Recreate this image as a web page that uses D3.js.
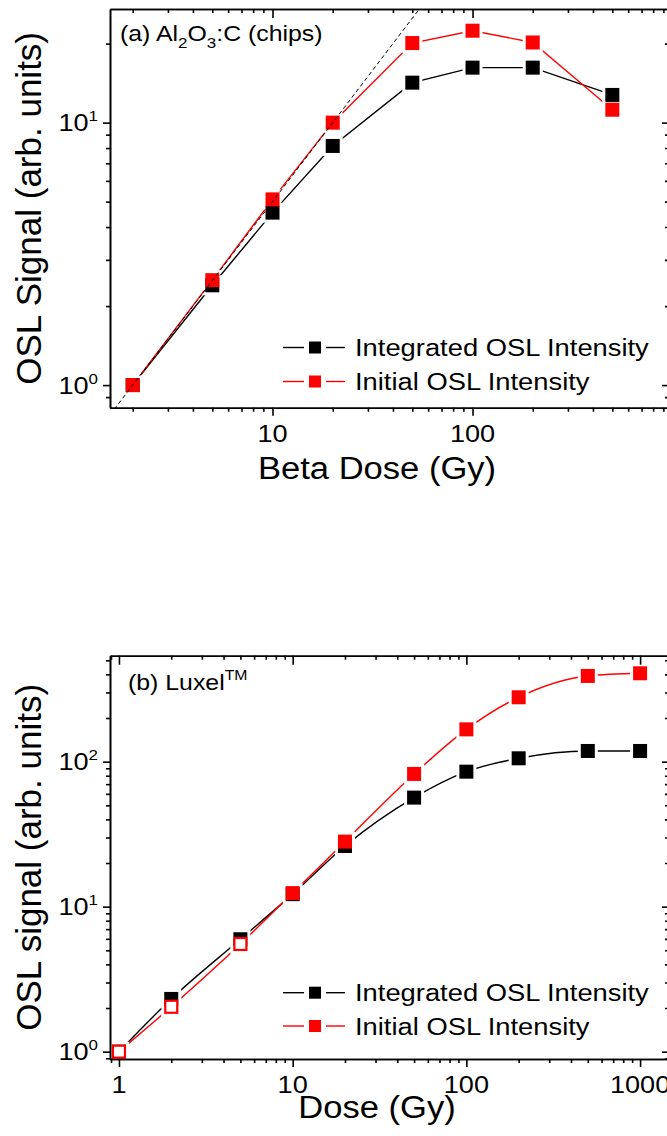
<!DOCTYPE html>
<html lang="en">
<head>
<meta charset="utf-8">
<title>OSL dose response</title>
<style>
  body { margin: 0; background: #fff; }
  svg { display: block; font-family: "Liberation Sans", Arial, sans-serif; }
  .axis path, .axis line { stroke: #000; stroke-width: 1.6; }
  .axis text { display: none; }
</style>
</head>
<body>
<svg id="chart" width="667" height="1136"></svg>
<script src="https://d3js.org/d3.v7.min.js"></script>
<script>

// (a) Al2O3:C chips, beta dose in Gy
const doseA = [2, 5, 10, 20, 50, 100, 200, 500];
const integratedA = [1.0, 2.40, 4.54, 8.15, 14.2, 16.2, 16.2, 12.75];
const initialA = [1.0, 2.51, 5.1, 10.0, 20.1, 22.4, 20.2, 11.2];
const linearSlopeA = 0.5; // signal = 0.5 * dose, linear response guide

// (b) Luxel, dose in Gy
const doseB = [1, 2, 5, 10, 20, 50, 100, 200, 500, 1000];
const integratedB = [1.0, 2.31, 5.96, 12.2, 26.2, 56.5, 85.3, 105.5, 118.5, 118.5];
const initialB = [1.0, 2.04, 5.53, 12.4, 28.1, 82.3, 167, 278, 390, 407];
const hollowDosesB = [1, 2, 5];

const seriesNames = ["Integrated OSL Intensity", "Initial OSL Intensity"];
const seriesColors = ["#000", "#ff0000"];

const xMajorA = [10, 100];
const xMajorLabelsA = ["10", "100"];
const yMajorA = [1, 10];
const yMajorExpA = ["0", "1"];
const xMajorB = [1, 10, 100, 1000];
const xMajorLabelsB = ["1", "10", "100", "1000"];
const yMajorB = [1, 10, 100];
const yMajorExpB = ["0", "1", "2"];

const W = 667, H = 1136;
const SX = 1.13; // horizontal text is set a little wide
const svg = d3.select("#chart");
const defs = svg.append("defs");

// place a horizontal label, widened around its anchor point
function wide(sel, x, y) {
  return sel.attr("transform", `translate(${x},${y}) scale(${SX},1)`);
}

function minorTicks(domain) {
  const out = [];
  for (let e = -1; e <= 3; e++) {
    for (let m = 2; m <= 9; m++) {
      const v = m * Math.pow(10, e);
      if (v >= domain[0] && v <= domain[1]) out.push(v);
    }
  }
  return out;
}

function panel(p) {
  const x = d3.scaleLog().domain(p.xDomain).range([110, 669]);
  const y = d3.scaleLog().domain(p.yDomain).range([p.bottom, p.top]);
  const g = svg.append("g");

  defs.append("clipPath").attr("id", p.id + "-clip")
    .append("rect")
    .attr("x", 110).attr("y", p.top)
    .attr("width", 559).attr("height", p.bottom - p.top);

  // frame with ticks: bottom/left outward, top/right inward
  const xMinor = minorTicks(p.xDomain);
  const yMinor = minorTicks(p.yDomain);
  const axes = [
    [d3.axisBottom(x), `translate(0,${p.bottom})`, xMinor, p.xMajor, 4, 8],
    [d3.axisTop(x), `translate(0,${p.top})`, xMinor, p.xMajor, -4, -9],
    [d3.axisLeft(y), "translate(110,0)", yMinor, p.yMajor, 4, 7],
    [d3.axisRight(y), "translate(669,0)", yMinor, p.yMajor, -4, -7]
  ];
  axes.forEach(([ax, tr, minor, major, sMinor, sMajor]) => {
    g.append("g").attr("class", "axis").attr("transform", tr)
      .call(ax.tickValues(minor).tickSize(sMinor).tickSizeOuter(0).tickFormat(""));
    g.append("g").attr("class", "axis").attr("transform", tr)
      .call(ax.tickValues(major).tickSize(sMajor).tickSizeOuter(0).tickFormat(""));
  });

  // tick labels
  g.selectAll(null).data(p.xMajor).join("text")
    .attr("transform", d => `translate(${x(d)},${p.bottom + 34}) scale(${SX},1)`)
    .attr("text-anchor", "middle").attr("font-size", 24)
    .text((d, i) => p.xMajorLabels[i]);

  const yl = g.selectAll(null).data(p.yMajor).join("text")
    .attr("transform", d => `translate(98,${y(d) + 8.5}) scale(${SX},1)`)
    .attr("text-anchor", "end").attr("font-size", 24);
  yl.append("tspan").text("10");
  yl.append("tspan").attr("dy", -10).attr("font-size", 15).text((d, i) => p.yMajorExp[i]);

  // axis titles
  wide(g.append("text"), 377, p.xTitleY)
    .attr("text-anchor", "middle").attr("font-size", 30.6).text(p.xTitle);
  g.append("text")
    .attr("transform", `translate(41,${(p.top + p.bottom) / 2}) rotate(-90)`)
    .attr("text-anchor", "middle").attr("font-size", 35).text(p.yTitle);

  const plot = g.append("g").attr("clip-path", `url(#${p.id}-clip)`);
  const line = d3.line().x(d => x(d[0])).y(d => y(d[1])).curve(p.curve);

  p.series.forEach((vals, si) => {
    const pts = p.dose.map((d, i) => [d, vals[i]]);
    const isHollow = d => si === 1 && p.hollow.includes(d[0]);

    // line breaks off just short of each of its own markers
    const maskId = `${p.id}-gap-${si}`;
    const mask = defs.append("mask").attr("id", maskId)
      .attr("maskUnits", "userSpaceOnUse")
      .attr("x", 0).attr("y", 0).attr("width", W).attr("height", H);
    mask.append("rect").attr("width", W).attr("height", H).attr("fill", "#fff");
    mask.selectAll(null).data(pts).join("rect")
      .attr("x", d => x(d[0]) - 10).attr("y", d => y(d[1]) - 10)
      .attr("width", 20).attr("height", 20).attr("fill", "#000");

    plot.append("path").datum(pts)
      .attr("d", line).attr("fill", "none")
      .attr("stroke", seriesColors[si]).attr("stroke-width", 1.4)
      .attr("mask", `url(#${maskId})`);

    plot.selectAll(null).data(pts).join("rect")
      .attr("x", d => x(d[0]) - (isHollow(d) ? 6 : 7))
      .attr("y", d => y(d[1]) - (isHollow(d) ? 6 : 7))
      .attr("width", d => isHollow(d) ? 12 : 14)
      .attr("height", d => isHollow(d) ? 12 : 14)
      .attr("fill", d => isHollow(d) ? "#fff" : seriesColors[si])
      .attr("stroke", d => isHollow(d) ? seriesColors[si] : "none")
      .attr("stroke-width", 2.2);
  });

  if (p.slope) {
    const x0 = p.xDomain[0], x1 = p.xDomain[1];
    plot.append("path")
      .datum([[x0, x0 * p.slope], [x1, x1 * p.slope]])
      .attr("d", d3.line().x(d => x(d[0])).y(d => y(d[1])))
      .attr("fill", "none").attr("stroke", "#000")
      .attr("stroke-width", 1).attr("stroke-dasharray", "4,3");
  }

  // legend
  p.legendY.forEach((ly, i) => {
    const lg = g.append("g").attr("stroke", seriesColors[i]).attr("stroke-width", 1.4);
    lg.append("line").attr("x1", 283).attr("x2", 304).attr("y1", ly).attr("y2", ly);
    lg.append("line").attr("x1", 326).attr("x2", 345).attr("y1", ly).attr("y2", ly);
    g.append("rect").attr("x", 309).attr("y", ly - 6).attr("width", 12).attr("height", 12)
      .attr("fill", seriesColors[i]);
    wide(g.append("text"), 355, ly + 8.5)
      .attr("font-size", 24.2).text(seriesNames[i]);
  });

  return g;
}

const gA = panel({
  id: "a",
  xDomain: [1.54, 960], yDomain: [0.82, 27.1],
  top: 9, bottom: 407.7,
  xMajor: xMajorA, xMajorLabels: xMajorLabelsA,
  yMajor: yMajorA, yMajorExp: yMajorExpA,
  xTitle: "Beta Dose (Gy)", xTitleY: 479,
  yTitle: "OSL Signal (arb. units)",
  dose: doseA, series: [integratedA, initialA], hollow: [],
  curve: d3.curveLinear, slope: linearSlopeA,
  legendY: [347.5, 381.5]
});

const gB = panel({
  id: "b",
  xDomain: [0.888, 1467], yDomain: [0.89, 538],
  top: 655.7, bottom: 1059,
  xMajor: xMajorB, xMajorLabels: xMajorLabelsB,
  yMajor: yMajorB, yMajorExp: yMajorExpB,
  xTitle: "Dose (Gy)", xTitleY: 1118,
  yTitle: "OSL signal (arb. units)",
  dose: doseB, series: [integratedB, initialB], hollow: hollowDosesB,
  curve: d3.curveMonotoneX, slope: null,
  legendY: [992.7, 1026]
});

// panel captions
const capA = wide(gA.append("text"), 120, 41).attr("font-size", 22);
capA.append("tspan").text("(a) Al");
capA.append("tspan").attr("dy", 7).attr("font-size", 15).text("2");
capA.append("tspan").attr("dy", -7).text("O");
capA.append("tspan").attr("dy", 7).attr("font-size", 15).text("3");
capA.append("tspan").attr("dy", -7).text(":C (chips)");

const capB = wide(gB.append("text"), 128, 690).attr("font-size", 22);
capB.append("tspan").text("(b) Luxel");
capB.append("tspan").attr("dy", -10).attr("font-size", 14).text("TM");

</script>
</body>
</html>
